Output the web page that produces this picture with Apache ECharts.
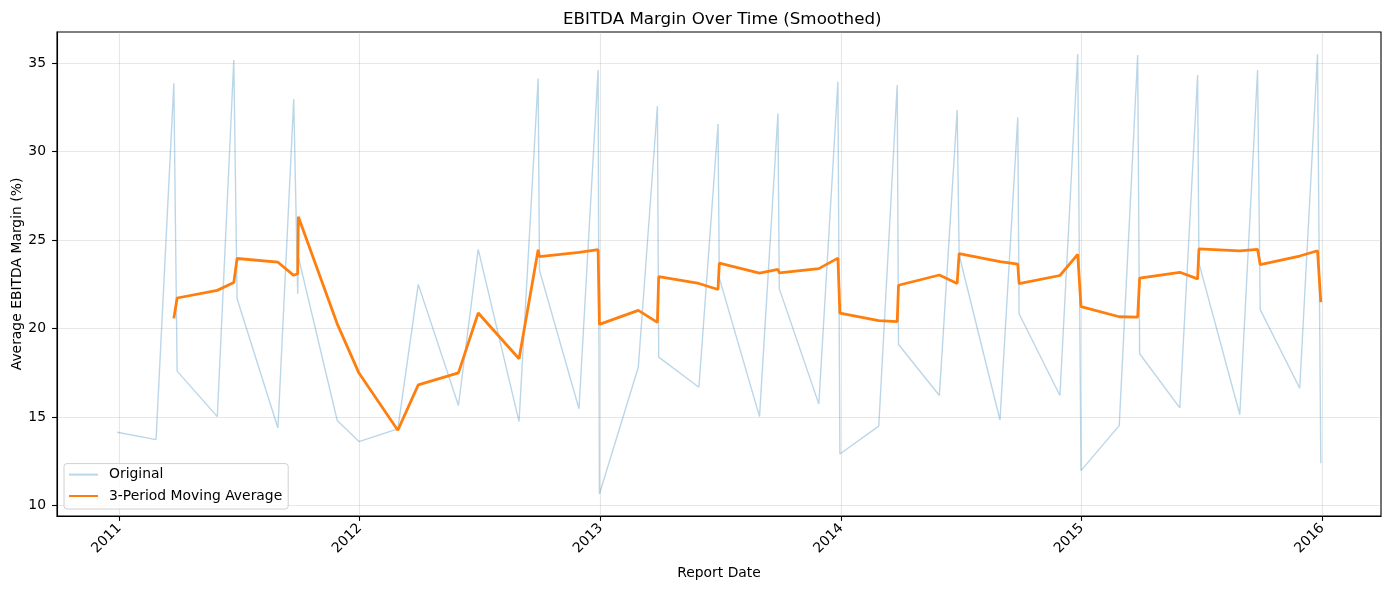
<!DOCTYPE html>
<html>
<head>
<meta charset="utf-8">
<title>EBITDA Margin Over Time (Smoothed)</title>
<script src="https://cdn.jsdelivr.net/npm/echarts@6/dist/echarts.min.js"></script>
<style>
  html, body { margin: 0; padding: 0; background: #fff; }
  #chart { width: 1390px; height: 590px; }
</style>
</head>
<body>
<div id="chart"></div>
<script>
// report dates
const reportDates = [
  '2010-12-29', '2011-02-26', '2011-03-25', '2011-03-30', '2011-05-30', '2011-06-24',
  '2011-06-29', '2011-08-30', '2011-09-23', '2011-09-29', '2011-09-30', '2011-11-28',
  '2011-12-31', '2012-02-28', '2012-03-30', '2012-05-30', '2012-06-29', '2012-08-30',
  '2012-09-28', '2012-09-30', '2012-11-29', '2012-12-28', '2012-12-30', '2013-02-27',
  '2013-03-28', '2013-03-30', '2013-05-30', '2013-06-28', '2013-06-30', '2013-08-30',
  '2013-09-27', '2013-09-29', '2013-11-28', '2013-12-27', '2013-12-30', '2014-02-27',
  '2014-03-27', '2014-03-29', '2014-05-30', '2014-06-26', '2014-06-29', '2014-08-30',
  '2014-09-26', '2014-09-28', '2014-11-29', '2014-12-26', '2014-12-31', '2015-02-27',
  '2015-03-27', '2015-03-30', '2015-05-30', '2015-06-26', '2015-06-28', '2015-08-29',
  '2015-09-25', '2015-09-29', '2015-11-28', '2015-12-25', '2015-12-30'
];

// average EBITDA margin (%)
const originalMargin = [
  14.15, 13.73, 33.85, 17.60, 15.03, 35.17,
  21.69, 14.39, 32.96, 21.95, 24.05, 14.81,
  13.62, 14.34, 22.50, 15.66, 24.48, 14.75,
  34.13, 23.30, 15.47, 34.60, 10.66, 17.82,
  32.57, 18.39, 16.69, 31.55, 22.85, 15.03,
  32.15, 22.26, 15.75, 33.94, 12.92, 14.49,
  33.76, 19.10, 16.22, 32.34, 24.16, 14.84,
  31.93, 20.84, 16.22, 35.51, 11.98, 14.52,
  35.45, 18.58, 15.52, 34.32, 23.70, 15.15,
  34.60, 21.07, 16.63, 35.49, 12.39
];

// 3-period moving average (first two periods empty)
const movingAverage = [
  null,  null,  20.58, 21.73, 22.16, 22.60,
  23.96, 23.75, 23.01, 23.10, 26.32, 20.27,
  17.49, 14.26, 16.82, 17.50, 20.88, 18.30,
  24.45, 24.06, 24.30, 24.46, 20.24, 21.03,
  20.35, 22.93, 22.55, 22.21, 23.70, 23.14,
  23.34, 23.15, 23.39, 23.98, 20.87, 20.45,
  20.39, 22.45, 23.03, 22.55, 24.24, 23.78,
  23.64, 22.54, 23.00, 24.19, 21.24, 20.67,
  20.65, 22.85, 23.18, 22.81, 24.51, 24.39,
  24.48, 23.61, 24.10, 24.40, 21.50
];

const yearTicks = ['2011-01-01', '2012-01-01', '2013-01-01', '2014-01-01', '2015-01-01', '2016-01-01'];
const marginTicks = [10, 15, 20, 25, 30, 35];

// 本地时间解析 YYYY-MM-DD
function toTime(s) {
  const p = s.split('-').map(Number);
  return new Date(p[0], p[1] - 1, p[2]).getTime();
}

// matplotlib 风格的 5% 边距
function padMin(v) { return v.min - (v.max - v.min) * 0.05; }
function padMax(v) { return v.max + (v.max - v.min) * 0.05; }

const FONT = 'DejaVu Sans';
const gridColor = 'rgba(176,176,176,0.3)';
const yearTimes = yearTicks.map(toTime);

const chart = echarts.init(document.getElementById('chart'), null, { renderer: 'canvas' });

chart.setOption({
  animation: false,
  backgroundColor: '#fff',
  textStyle: { fontFamily: FONT },
  title: {
    text: 'EBITDA Margin Over Time (Smoothed)',
    left: 558,
    top: 6,
    textStyle: { fontFamily: FONT, fontSize: 16.7, fontWeight: 'normal', color: '#000' }
  },
  grid: {
    left: 57, right: 9, top: 32, bottom: 74,
    show: true, borderColor: '#000', borderWidth: 1.1,
    containLabel: false,
    outerBoundsMode: 'none'
  },
  legend: {
    orient: 'vertical',
    left: 64,
    bottom: 81,
    itemWidth: 29,
    itemHeight: 14,
    itemGap: 7.4,
    padding: [4, 6, 6, 4],
    borderColor: '#d0d0d0',
    borderWidth: 1,
    borderRadius: 3,
    backgroundColor: 'rgba(255,255,255,0.8)',
    itemStyle: { opacity: 0 },
    textStyle: { fontFamily: FONT, fontSize: 13.9, color: '#000', padding: [0, 0, 0, 6] },
    data: ['Original', '3-Period Moving Average']
  },
  xAxis: {
    type: 'value',
    min: padMin,
    max: padMax,
    name: 'Report Date',
    nameLocation: 'middle',
    nameGap: 50,
    nameMoveOverlap: false,
    nameTextStyle: { fontFamily: FONT, fontSize: 13.9, color: '#000' },
    axisLine: { show: true, lineStyle: { color: '#000', width: 1.1 } },
    axisTick: {
      show: true, inside: false, length: 4.9,
      lineStyle: { color: '#000', width: 1.1 },
      customValues: yearTimes
    },
    axisLabel: {
      rotate: 45,
      margin: 10,
      fontFamily: FONT, fontSize: 13.9, color: '#000',
      customValues: yearTimes,
      formatter: v => String(new Date(v).getFullYear())
    },
    splitLine: { show: true, lineStyle: { color: gridColor, width: 1.1 } }
  },
  yAxis: {
    type: 'value',
    min: padMin,
    max: padMax,
    name: 'Average EBITDA Margin (%)',
    nameLocation: 'middle',
    nameGap: 33,
    nameMoveOverlap: false,
    nameTextStyle: { fontFamily: FONT, fontSize: 13.9, color: '#000' },
    axisLine: { show: true, lineStyle: { color: '#000', width: 1.1 } },
    axisTick: {
      show: true, inside: false, length: 4.9,
      lineStyle: { color: '#000', width: 1.1 },
      customValues: marginTicks
    },
    axisLabel: {
      margin: 11,
      fontFamily: FONT, fontSize: 13.9, color: '#000',
      customValues: marginTicks
    },
    splitLine: { show: true, lineStyle: { color: gridColor, width: 1.1 } }
  },
  series: [
    {
      name: 'Original',
      type: 'line',
      symbol: 'none',
      color: 'rgba(31,119,180,0.3)',
      lineStyle: { color: 'rgba(31,119,180,0.3)', width: 1.39 },
      data: reportDates.map((d, i) => [toTime(d), originalMargin[i]]),
      z: 2
    },
    {
      name: '3-Period Moving Average',
      type: 'line',
      symbol: 'none',
      color: '#ff7f0e',
      lineStyle: { color: '#ff7f0e', width: 2.78 },
      data: reportDates.map((d, i) => [toTime(d), movingAverage[i]]),
      z: 3
    }
  ]
});
</script>
</body>
</html>
